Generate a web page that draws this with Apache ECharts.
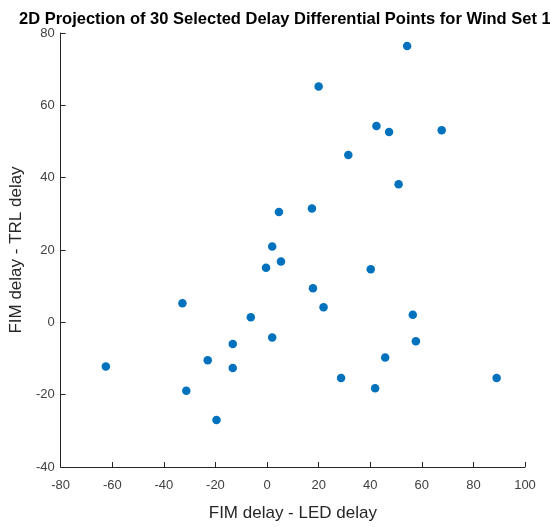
<!DOCTYPE html>
<html><head><meta charset="utf-8">
<script src="https://cdn.jsdelivr.net/npm/echarts@6/dist/echarts.min.js"></script>
<style>html,body{margin:0;padding:0;background:#fff}#c{width:550px;height:527px}</style>
</head><body><div id="c"></div>
<script>
const titleText = '2D Projection of 30 Selected Delay Differential Points for Wind Set 1';
const xLabel = 'FIM delay - LED delay';
const yLabel = 'FIM delay - TRL delay';
const xValues = [54.3, 20.0, 42.4, 47.3, 67.7, 31.5, 51.0, 17.4, 4.6, 2.0,
                 5.4, -0.4, -32.8, -6.3, 2.0, -13.3, -23.0, -13.3, -62.5, -31.3,
                 -19.6, 40.2, 17.8, 21.9, 56.5, 57.7, 45.8, 28.7, 41.9, 89.0];
const yValues = [76.4, 65.2, 54.3, 52.6, 53.1, 46.3, 38.2, 31.5, 30.5, 21.0,
                 16.8, 15.1, 5.3, 1.4, -4.2, -6.0, -10.5, -12.6, -12.2, -18.9,
                 -27.0, 14.7, 9.4, 4.2, 2.1, -5.2, -9.7, -15.4, -18.2, -15.4];
const points = xValues.map((x, i) => [x, yValues[i]]);

const chart = echarts.init(document.getElementById('c'));
const font = 'Liberation Sans, Arial, sans-serif';
const axisCommon = {
  axisLine: {show: true, onZero: false, lineStyle: {color: '#262626', width: 1}},
  axisTick: {show: true, inside: true, length: 5, lineStyle: {color: '#262626'}},
  axisLabel: {color: '#404040', fontSize: 13, fontFamily: font},
  splitLine: {show: false},
  nameLocation: 'middle',
  nameTextStyle: {color: '#262626', fontSize: 17, fontFamily: font}
};
chart.setOption({
  animation: false,
  backgroundColor: '#fff',
  title: {
    text: titleText, left: 14, top: 6,
    textStyle: {fontSize: 16.5, fontWeight: 'bold', color: '#000', fontFamily: font}
  },
  grid: {left: 56, right: 25, top: 33, bottom: 60, containLabel: false},
  xAxis: Object.assign({}, axisCommon, {
    type: 'value', min: -80, max: 100, interval: 20,
    name: xLabel, nameGap: 38,
    axisLabel: Object.assign({}, axisCommon.axisLabel, {margin: 12})
  }),
  yAxis: Object.assign({}, axisCommon, {
    type: 'value', min: -40, max: 80, interval: 20,
    name: yLabel, nameGap: 34,
    axisLabel: Object.assign({}, axisCommon.axisLabel, {margin: 6})
  }),
  series: [{
    type: 'scatter', data: points, symbolSize: 8.5,
    itemStyle: {color: '#0072BD', opacity: 1}
  }]
});
</script></body></html>
